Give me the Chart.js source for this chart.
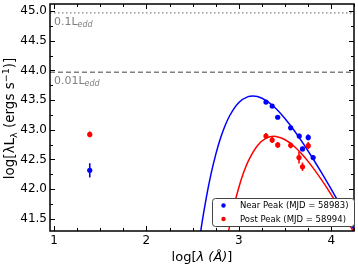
<!DOCTYPE html>
<html><head><meta charset="utf-8">
<script src="https://cdn.jsdelivr.net/npm/chart.js@4"></script>
<style>html,body{margin:0;padding:0;background:#fff}canvas{display:block}</style>
</head><body>
<canvas id="c" width="358" height="266"></canvas>
<script>
// ---- data ----
const nearX   = [1.387, 3.293, 3.360, 3.420, 3.560, 3.653, 3.688, 3.750, 3.803];
const nearY   = [42.317, 43.467, 43.400, 43.212, 43.033, 42.895, 42.678, 42.872, 42.533];
const nearErr = [0.12, 0.03, 0.03, 0.03, 0.03, 0.04, 0.04, 0.05, 0.04];
const postX   = [1.387, 3.293, 3.360, 3.420, 3.560, 3.650, 3.688, 3.750];
const postY   = [42.922, 42.895, 42.828, 42.745, 42.738, 42.533, 42.378, 42.733];
const postErr = [0.05, 0.05, 0.05, 0.05, 0.05, 0.10, 0.07, 0.06];
const nearFitX = [2.55, 2.60, 2.65, 2.70, 2.75, 2.80, 2.85, 2.90, 3.00, 3.10, 3.15, 3.20, 3.30, 3.40, 3.50, 3.60, 3.70, 3.80, 3.90, 4.00, 4.10, 4.20, 4.25, 4.30];
const nearFitY = [40.885, 41.422, 41.879, 42.265, 42.587, 42.852, 43.067, 43.237, 43.461, 43.559, 43.570, 43.560, 43.487, 43.358, 43.187, 42.985, 42.760, 42.517, 42.261, 41.995, 41.722, 41.443, 41.302, 41.160];
const postFitX = [2.85, 2.90, 2.95, 3.00, 3.05, 3.10, 3.20, 3.30, 3.38, 3.40, 3.50, 3.60, 3.70, 3.80, 3.90, 4.00, 4.10, 4.20, 4.25, 4.30];
const postFitY = [40.958, 41.382, 41.738, 42.033, 42.275, 42.469, 42.733, 42.863, 42.890, 42.888, 42.833, 42.718, 42.557, 42.363, 42.143, 41.905, 41.653, 41.389, 41.255, 41.118];
const eddLevels = [44.97, 43.97];
const eddLabels = ['0.1L', '0.01L'];
const eddDash   = [[1.5, 2.5], [5, 3]];
const xTicks = [1, 2, 3, 4];
const yTicks = [41.5, 42.0, 42.5, 43.0, 43.5, 44.0, 44.5, 45.0];
const seriesLabels = ['Near Peak (MJD = 58983)', 'Post Peak (MJD = 58994)'];
const seriesColors = ['#0000ff', '#ff0000'];

const FONT = 'DejaVu Sans';
const pts = (xs, ys) => xs.map((x, i) => ({x: x, y: ys[i]}));

const decor = {
  id: 'decor',
  beforeDatasetsDraw(chart) {
    const {ctx, chartArea: a, scales: {y}} = chart;
    ctx.save();
    ctx.beginPath(); ctx.rect(a.left, a.top, a.right - a.left, a.bottom - a.top); ctx.clip();
    eddLevels.forEach((v, i) => {
      const py = y.getPixelForValue(v);
      ctx.strokeStyle = '#808080'; ctx.lineWidth = 1.3; ctx.setLineDash(eddDash[i]);
      ctx.beginPath(); ctx.moveTo(a.left, py); ctx.lineTo(a.right, py); ctx.stroke();
      ctx.setLineDash([]);
      ctx.fillStyle = '#808080';
      ctx.font = '11px "' + FONT + '"'; ctx.textBaseline = 'alphabetic'; ctx.textAlign = 'left';
      const bx = a.left + 4, by = py + 12;
      ctx.fillText(eddLabels[i], bx, by);
      const w = ctx.measureText(eddLabels[i]).width;
      ctx.font = 'italic 8px "' + FONT + '"';
      ctx.fillText('edd', bx + w, by + 2);
    });
    ctx.restore();
  },
  afterDatasetsDraw(chart) {
    const {ctx, scales: {x, y}} = chart;
    ctx.save();
    ctx.lineWidth = 1.6;
    [[nearX, nearY, nearErr], [postX, postY, postErr]].forEach((s, k) => {
      ctx.strokeStyle = seriesColors[k];
      s[0].forEach((xv, i) => {
        const px = x.getPixelForValue(xv);
        ctx.beginPath();
        ctx.moveTo(px, y.getPixelForValue(s[1][i] - s[2][i]));
        ctx.lineTo(px, y.getPixelForValue(s[1][i] + s[2][i]));
        ctx.stroke();
      });
    });
    ctx.restore();
  },
  afterDraw(chart) {
    const {ctx, chartArea: a, scales: {x, y}} = chart;
    ctx.save();
    // frame
    ctx.strokeStyle = '#000'; ctx.lineWidth = 1.5;
    ctx.strokeRect(a.left, a.top, a.right - a.left, a.bottom - a.top);
    // inward ticks
    ctx.lineWidth = 1;
    const tick = (x1, y1, x2, y2) => { ctx.beginPath(); ctx.moveTo(x1, y1); ctx.lineTo(x2, y2); ctx.stroke(); };
    for (let v = 1; v <= 4.25; v += 0.25) {
      const px = Math.round(x.getPixelForValue(v)) + 0.5;
      const L = Math.abs(v - Math.round(v)) < 1e-6 ? 5 : 3;
      tick(px, a.bottom, px, a.bottom - L);
      tick(px, a.top, px, a.top + L);
    }
    for (let v = 41.5; v <= 45.01; v += 0.25) {
      const py = Math.round(y.getPixelForValue(v)) + 0.5;
      const L = Math.abs(v * 2 - Math.round(v * 2)) < 1e-6 ? 5 : 3;
      tick(a.left, py, a.left + L, py);
      tick(a.right, py, a.right - L, py);
    }
    // x title
    ctx.fillStyle = '#000'; ctx.textBaseline = 'alphabetic'; ctx.textAlign = 'left';
    const parts = [['log[', ''], ['\u03bb (\u00c5)', 'italic '], [']', '']];
    let tw = 0;
    parts.forEach(p => { ctx.font = p[1] + '13px "' + FONT + '"'; tw += ctx.measureText(p[0]).width; });
    let cx = (a.left + a.right) / 2 - tw / 2;
    parts.forEach(p => { ctx.font = p[1] + '13px "' + FONT + '"'; ctx.fillText(p[0], cx, 261); cx += ctx.measureText(p[0]).width; });
    // y title (rotated)
    const yp = [['log[\u03bbL', 13.5, 0], ['\u03bb', 9.5, 3], [' (ergs s', 13.5, 0], ['\u22121', 9.5, -5.5], [')]', 13.5, 0]];
    ctx.save();
    ctx.translate(14, (a.top + a.bottom) / 2 + 1);
    ctx.rotate(-Math.PI / 2);
    let yw = 0;
    yp.forEach(p => { ctx.font = p[1] + 'px "' + FONT + '"'; yw += ctx.measureText(p[0]).width; });
    let cy = -yw / 2;
    yp.forEach(p => { ctx.font = p[1] + 'px "' + FONT + '"'; ctx.fillText(p[0], cy, p[2]); cy += ctx.measureText(p[0]).width; });
    ctx.restore();
    // legend
    const lx = 212, ly = 198, lw = 142, lh = 28;
    ctx.fillStyle = '#fff'; ctx.strokeStyle = '#444'; ctx.lineWidth = 1;
    ctx.beginPath(); ctx.roundRect(lx + 0.5, ly + 0.5, lw, lh, 3); ctx.fill(); ctx.stroke();
    ctx.font = '8.5px "' + FONT + '"'; ctx.textBaseline = 'middle';
    seriesLabels.forEach((t, i) => {
      const ry = ly + 7.5 + i * 13.5;
      ctx.fillStyle = seriesColors[i];
      ctx.beginPath(); ctx.arc(lx + 11.5, ry, 2.2, 0, Math.PI * 2); ctx.fill();
      ctx.fillStyle = '#000';
      ctx.fillText(t, lx + 28, ry + 0.5);
    });
    ctx.restore();
  }
};

new Chart(document.getElementById('c'), {
  type: 'scatter',
  data: {
    datasets: [
      {label: seriesLabels[0], data: pts(nearX, nearY), backgroundColor: seriesColors[0], borderColor: seriesColors[0], pointRadius: 2.6, pointBorderWidth: 0, order: 0},
      {label: seriesLabels[1], data: pts(postX, postY), backgroundColor: seriesColors[1], borderColor: seriesColors[1], pointRadius: 2.6, pointBorderWidth: 0, order: 1},
      {label: 'near fit', data: pts(nearFitX, nearFitY), showLine: true, borderColor: seriesColors[0], borderWidth: 1.5, pointRadius: 0, cubicInterpolationMode: 'monotone', order: 3},
      {label: 'post fit', data: pts(postFitX, postFitY), showLine: true, borderColor: seriesColors[1], borderWidth: 1.5, pointRadius: 0, cubicInterpolationMode: 'monotone', order: 2}
    ]
  },
  options: {
    responsive: false, animation: false, devicePixelRatio: 1,
    layout: {padding: {top: 1, right: 2, left: 0, bottom: 0}},
    plugins: {legend: {display: false}, tooltip: {enabled: false}, title: {display: false}},
    scales: {
      x: {
        type: 'linear', min: 0.957, max: 4.245,
        grid: {display: false, drawTicks: false, tickLength: 0}, border: {display: false},
        ticks: {color: '#000', font: {family: FONT, size: 12}, padding: 3, callback: v => String(v)},
        afterBuildTicks: s => { s.ticks = xTicks.map(v => ({value: v})); },
        afterFit: s => { s.height = 35; s.paddingLeft = 0; s.paddingRight = 0; }
      },
      y: {
        type: 'linear', min: 41.295, max: 45.12,
        grid: {display: false, drawTicks: false, tickLength: 0}, border: {display: false},
        ticks: {color: '#000', font: {family: FONT, size: 12}, padding: 3, callback: v => v.toFixed(1)},
        afterBuildTicks: s => { s.ticks = yTicks.map(v => ({value: v})); },
        afterFit: s => { s.width = 50; s.paddingTop = 0; s.paddingBottom = 0; }
      }
    }
  },
  plugins: [decor]
});
</script>
</body></html>
